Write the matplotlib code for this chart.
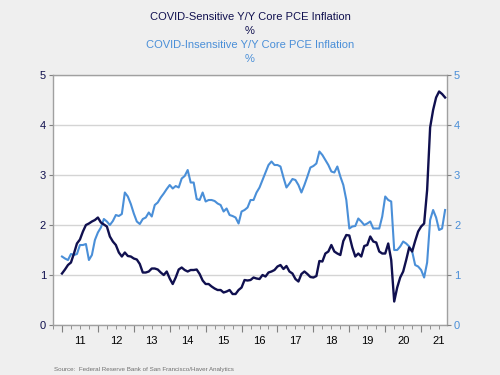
import matplotlib
matplotlib.use("Agg")
import matplotlib.pyplot as plt
import numpy as np

plt.rcParams['font.family'] = ['Liberation Sans', 'DejaVu Sans']

# monthly, Jan 2011 .. Sep 2021
start_year = 2011
covid_sensitive = [
    1.03, 1.11, 1.20, 1.25, 1.43, 1.63, 1.71, 1.87, 2.00, 2.03, 2.07, 2.10,
    2.15, 2.05, 2.01, 1.97, 1.77, 1.67, 1.60, 1.45, 1.37, 1.45, 1.38, 1.37,
    1.33, 1.31, 1.22, 1.05, 1.05, 1.07, 1.13, 1.13, 1.11, 1.05, 1.00, 1.07,
    0.93, 0.82, 0.95, 1.11, 1.15, 1.10, 1.07, 1.10, 1.10, 1.11, 1.02, 0.89,
    0.82, 0.82, 0.77, 0.73, 0.70, 0.70, 0.65, 0.67, 0.70, 0.62, 0.62, 0.70,
    0.75, 0.90, 0.89, 0.90, 0.95, 0.93, 0.92, 1.00, 0.97, 1.05, 1.07, 1.10,
    1.17, 1.20, 1.12, 1.18, 1.07, 1.03, 0.92, 0.87, 1.02, 1.07, 1.02, 0.96,
    0.95, 0.98, 1.28, 1.27, 1.43, 1.47, 1.60, 1.47, 1.43, 1.40, 1.68, 1.80,
    1.79, 1.55, 1.37, 1.43, 1.37, 1.58, 1.60, 1.77, 1.67, 1.65, 1.47, 1.43,
    1.43, 1.63, 1.30, 0.47, 0.75, 0.95, 1.07, 1.30, 1.55, 1.47, 1.68, 1.87,
    1.97, 2.03, 2.70, 3.95, 4.30, 4.55, 4.67, 4.62, 4.55,
]
covid_insensitive = [
    1.37, 1.33, 1.30, 1.42, 1.40, 1.42, 1.60, 1.60, 1.62, 1.30, 1.40, 1.70,
    1.85, 1.95, 2.12, 2.07, 2.00, 2.08, 2.20, 2.18, 2.22, 2.65, 2.57, 2.42,
    2.23, 2.07, 2.02, 2.12, 2.15, 2.25, 2.17, 2.40, 2.45, 2.55, 2.63, 2.72,
    2.80, 2.73, 2.78, 2.75, 2.93, 2.98, 3.10, 2.85, 2.85, 2.52, 2.50, 2.65,
    2.47, 2.50, 2.50, 2.48, 2.43, 2.40, 2.27, 2.33, 2.20, 2.18, 2.15, 2.03,
    2.27, 2.30, 2.35, 2.50, 2.50, 2.65, 2.75, 2.90, 3.05, 3.20, 3.27, 3.20,
    3.20, 3.17, 2.95, 2.75, 2.83, 2.92, 2.90, 2.80, 2.65, 2.80, 2.97, 3.15,
    3.18, 3.23, 3.47, 3.40, 3.30, 3.20, 3.07, 3.05, 3.17, 2.97, 2.80, 2.50,
    1.93, 1.97, 1.98, 2.13, 2.07, 2.00, 2.03, 2.07, 1.93, 1.93, 1.93, 2.17,
    2.57, 2.50, 2.47, 1.50, 1.50, 1.57, 1.67, 1.63, 1.57, 1.47, 1.20, 1.17,
    1.10, 0.95, 1.25, 2.10, 2.30, 2.15, 1.90, 1.93, 2.30,
]
years = list(range(2011, 2022))
year_labels = [str(y)[2:] for y in years]

dark = '#10104f'
light = '#4a8fd8'
grid_col = '#d4d4d4'
bg = '#efefef'

t = start_year + np.arange(len(covid_sensitive)) / 12

fig = plt.figure(figsize=(5, 3.75), dpi=100, facecolor=bg)
ax = fig.add_axes([0.106, 0.1333, 0.788, 0.6667])
ax.set_facecolor('white')

ax.plot(t, covid_insensitive, color=light, lw=1.5, zorder=3)
ax.plot(t, covid_sensitive, color=dark, lw=1.7, zorder=4)

ax.set_xlim(2010.75, 2021.72)
ax.set_ylim(0, 5)
ax.set_yticks(range(0, 6))
ax.grid(axis='y', color=grid_col, lw=1)
ax.set_axisbelow(True)

for s in ax.spines.values():
    s.set_color('#a0a0a0')
    s.set_linewidth(1)

ax.tick_params(axis='y', left=True, right=False, labelleft=True,
               length=3, color='#808080', labelsize=8, labelcolor=dark, pad=2)
ax2 = ax.twinx()
ax2.set_ylim(0, 5)
ax2.set_yticks(range(0, 6))
ax2.tick_params(axis='y', length=3, color='#808080', labelsize=8,
                labelcolor=light, pad=2)
for s in ax2.spines.values():
    s.set_visible(False)

# year boundaries long ticks, quarter short ticks
ax.set_xticks(years)
ax.set_xticklabels([])
ax.set_xticks(np.arange(2010.75, 2021.72, 0.25), minor=True)
ax.tick_params(axis='x', which='major', length=5, color='#808080')
ax.tick_params(axis='x', which='minor', length=3, color='#808080')

sec = ax.secondary_xaxis('bottom')
sec.set_xticks([y + 0.5 for y in years])
sec.set_xticklabels(year_labels)
sec.tick_params(length=0, labelsize=8, pad=8, labelcolor='black')
sec.spines['bottom'].set_visible(False)

fig.text(0.5, 0.955, 'COVID-Sensitive Y/Y Core PCE Inflation', ha='center',
         va='center', fontsize=8, color=dark)
fig.text(0.5, 0.917, '%', ha='center', va='center', fontsize=8, color=dark)
fig.text(0.5, 0.880, 'COVID-Insensitive Y/Y Core PCE Inflation', ha='center',
         va='center', fontsize=8, color=light)
fig.text(0.5, 0.843, '%', ha='center', va='center', fontsize=8, color=light)

fig.text(0.107, 0.008, 'Source:  Federal Reserve Bank of San Francisco/Haver Analytics',
         ha='left', va='bottom', fontsize=4.5, color='#707070')

fig.savefig('out.png', dpi=100, facecolor=bg)
